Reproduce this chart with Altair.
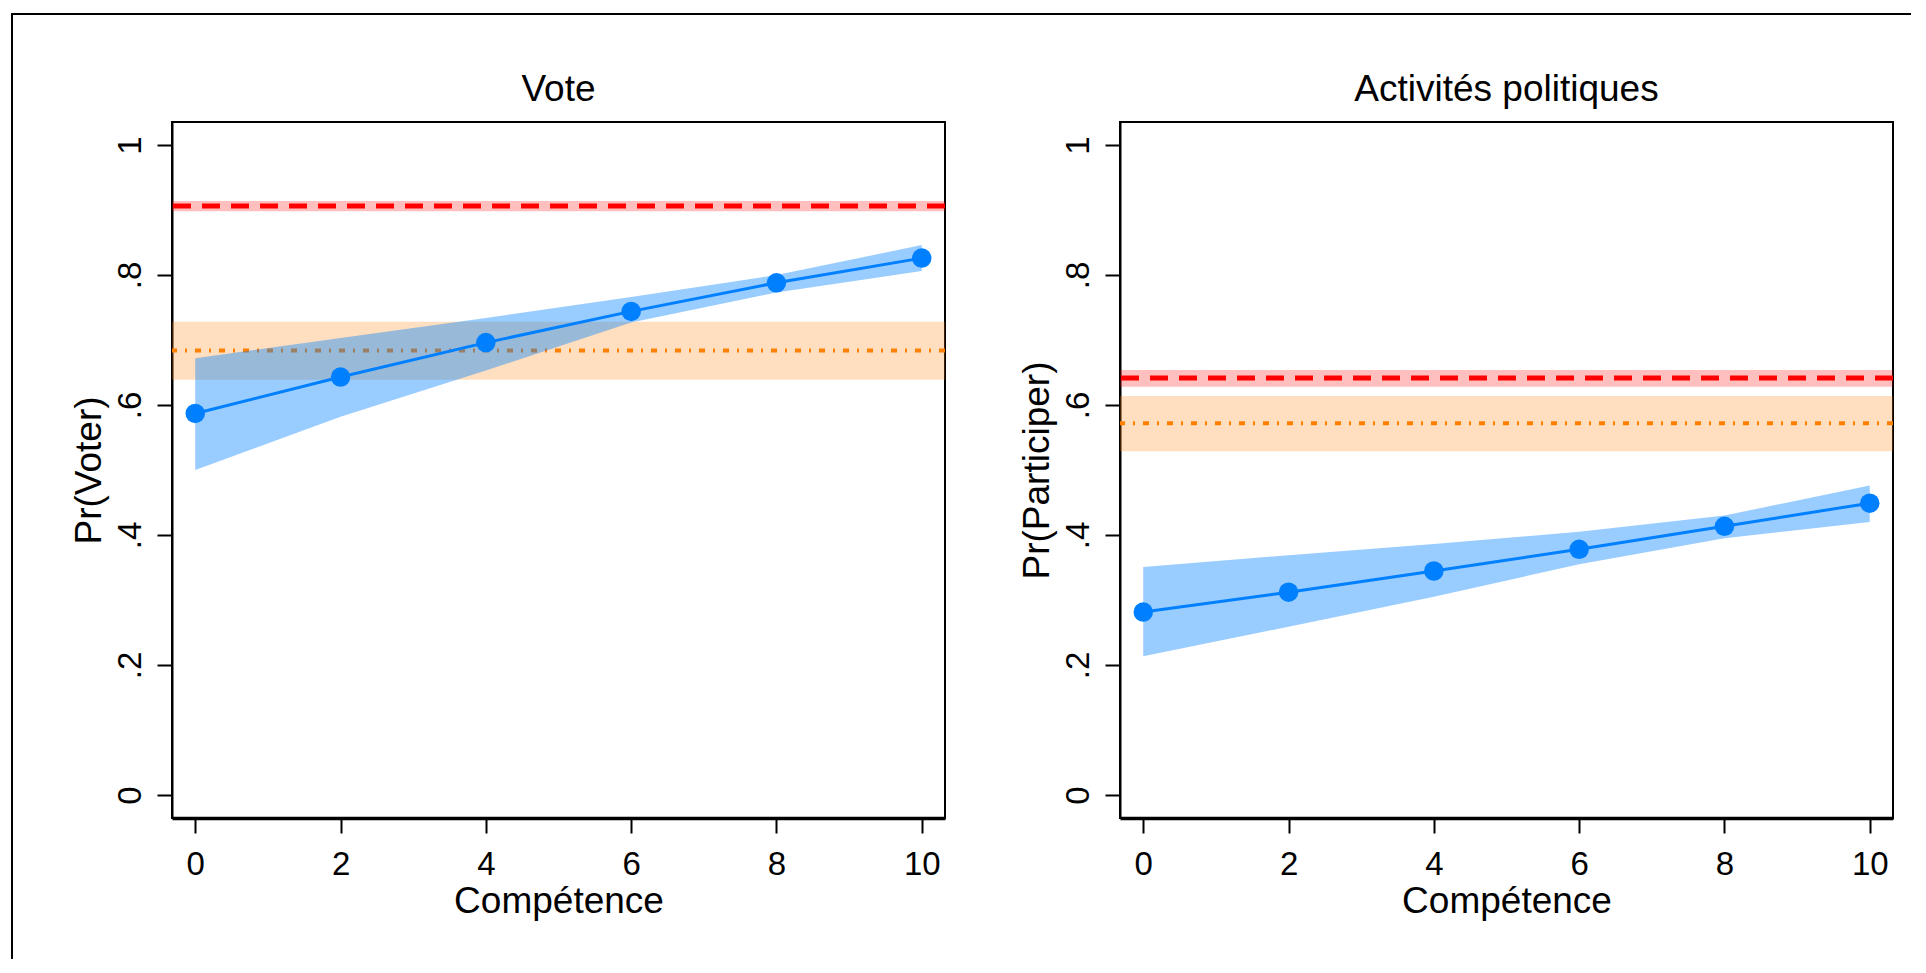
import altair as alt
import pandas as pd

# ---------------- data ----------------
competence = [0, 2, 4, 6, 8, 10]

vote_pred = [0.587, 0.643, 0.696, 0.744, 0.788, 0.826]
vote_lo = [0.500, 0.582, 0.653, 0.727, 0.773, 0.806]
vote_hi = [0.672, 0.703, 0.734, 0.766, 0.800, 0.846]
vote_red = [0.906, 0.898, 0.914]      # line, lower, upper
vote_orange = [0.684, 0.639, 0.728]   # line, lower, upper

act_pred = [0.2815, 0.312, 0.3446, 0.378, 0.4134, 0.449]
act_lo = [0.2133, 0.259, 0.305, 0.355, 0.395, 0.420]
act_hi = [0.3508, 0.369, 0.386, 0.405, 0.430, 0.476]
act_red = [0.6415, 0.628, 0.654]
act_orange = [0.572, 0.529, 0.614]

y_ticks = [0, 0.2, 0.4, 0.6, 0.8, 1]
x_ticks = [0, 2, 4, 6, 8, 10]

FONT = "Liberation Sans"
W, H = 773, 696
BLUE = "#0080FF"
RED = "#FF0000"
ORANGE = "#FF8000"

xs = alt.Scale(domain=[-0.32, 10.32], nice=False, zero=False)
ys = alt.Scale(domain=[-0.0354, 1.0354], nice=False, zero=False)


def panel(title, ytitle, pred, lo, hi, red, orange, outer_frame):
    df = pd.DataFrame({"x": competence, "p": pred, "lo": lo, "hi": hi})
    ref = pd.DataFrame({
        "r": [red[0]], "rlo": [red[1]], "rhi": [red[2]],
        "o": [orange[0]], "olo": [orange[1]], "ohi": [orange[2]],
    })
    one = pd.DataFrame({"a": [0]})

    x_axis = alt.Axis(values=x_ticks, title="Compétence", grid=False,
                      labelFontSize=33, labelFont=FONT, labelColor="black",
                      labelPadding=15, labelFlush=False, labelOverlap=False,
                      labelAngle=0,
                      tickSize=15, tickWidth=2, tickColor="black",
                      domainColor="black", domainWidth=3.5,
                      titleFont=FONT, titleFontSize=37, titleFontWeight="normal",
                      titleColor="black", titleBaseline="alphabetic", titleY=94)
    y_axis = alt.Axis(values=y_ticks, title=ytitle, grid=False,
                      labelExpr="datum.value == 0 ? '0' : datum.value == 1 ? '1' : '.' + round(datum.value * 10)",
                      labelFontSize=33, labelFont=FONT, labelColor="black",
                      labelAngle=270, labelAlign="center", labelBaseline="bottom",
                      labelPadding=10, labelFlush=False, labelOverlap=False,
                      tickSize=15, tickWidth=2, tickColor="black",
                      domainColor="black", domainWidth=2,
                      titleFont=FONT, titleFontSize=37, titleFontWeight="normal",
                      titleColor="black", titleAngle=270, titleAlign="center",
                      titleBaseline="alphabetic", titleX=-72, titleY=H / 2)

    base_ref = alt.Chart(ref)
    red_band = base_ref.mark_rect(color=RED, opacity=0.25).encode(
        x=alt.value(0), x2=alt.value(W),
        y=alt.Y("rlo:Q", scale=ys, axis=y_axis), y2="rhi:Q")
    orange_band = base_ref.mark_rect(color=ORANGE, opacity=0.25).encode(
        x=alt.value(0), x2=alt.value(W),
        y=alt.Y("olo:Q", scale=ys, axis=y_axis), y2="ohi:Q")
    red_line = base_ref.mark_rule(color=RED, strokeWidth=5, strokeDash=[18, 11]).encode(
        y=alt.Y("r:Q", scale=ys, axis=y_axis))
    orange_line = base_ref.mark_rule(color=ORANGE, strokeWidth=4, strokeDash=[6, 8, 2, 8]).encode(
        y=alt.Y("o:Q", scale=ys, axis=y_axis))

    base = alt.Chart(df)
    area = base.mark_area(color=BLUE, opacity=0.4).encode(
        x=alt.X("x:Q", scale=xs, axis=x_axis),
        y=alt.Y("lo:Q", scale=ys, axis=y_axis), y2="hi:Q")
    line = base.mark_line(color=BLUE, strokeWidth=3).encode(
        x=alt.X("x:Q", scale=xs, axis=x_axis),
        y=alt.Y("p:Q", scale=ys, axis=y_axis))
    pts = base.mark_circle(color=BLUE, size=380, opacity=1).encode(
        x=alt.X("x:Q", scale=xs, axis=x_axis),
        y=alt.Y("p:Q", scale=ys, axis=y_axis))

    # panel title as a text mark, centred over the plot area
    ttl = alt.Chart(one).mark_text(font=FONT, fontSize=37, color="black",
                                   align="center", baseline="alphabetic").encode(
        x=alt.value(W / 2), y=alt.value(-21), text=alt.value(title))

    layers = [red_band, orange_band, red_line, orange_line, area, line, pts, ttl]

    # outer graph frame (thin black lines at the left and top of the figure)
    if outer_frame:
        top = alt.Chart(one).mark_rule(color="black", strokeWidth=2, strokeCap="square").encode(
            x=alt.value(-160), x2=alt.value(1738), y=alt.value(-108))
        left = alt.Chart(one).mark_rule(color="black", strokeWidth=2, strokeCap="square").encode(
            x=alt.value(-160), y=alt.value(-108), y2=alt.value(836))
        layers += [top, left]

    return alt.layer(*layers).properties(width=W, height=H)


left_panel = panel("Vote", "Pr(Voter)", vote_pred, vote_lo, vote_hi,
                   vote_red, vote_orange, True)
right_panel = panel("Activités politiques", "Pr(Participer)", act_pred, act_lo, act_hi,
                    act_red, act_orange, False)

chart = alt.hconcat(left_panel, right_panel, spacing=175).properties(
    bounds="flush",
    padding={"left": 1, "top": 3, "right": 0, "bottom": 0},
    background="white",
).configure_view(stroke="black", strokeWidth=2)

chart.save("out.html", embed_options={"renderer": "svg", "actions": False})
